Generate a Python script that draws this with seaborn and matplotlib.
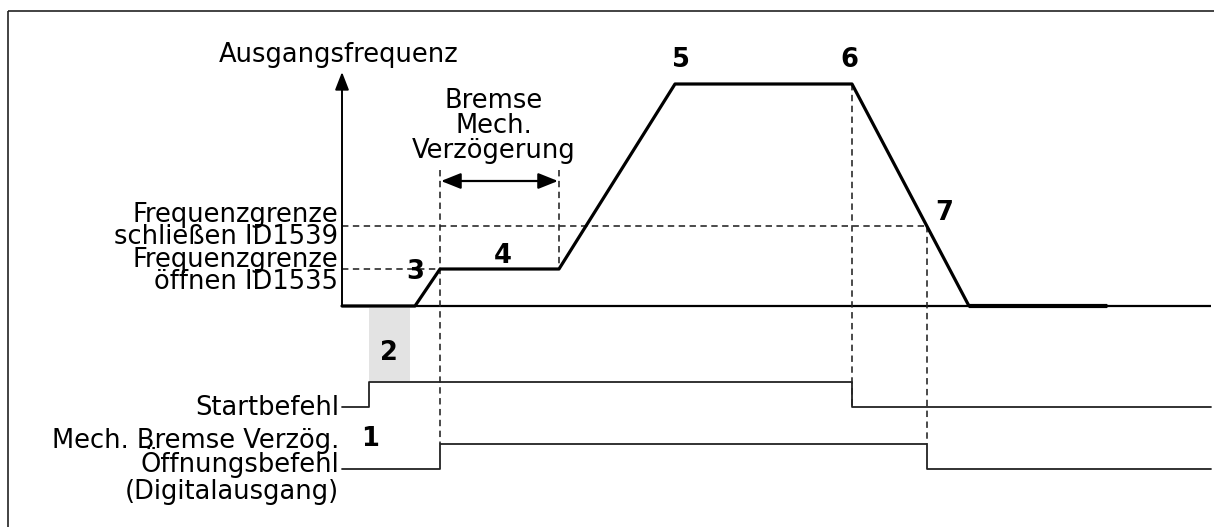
import matplotlib
matplotlib.use("Agg")
import matplotlib.pyplot as plt
import seaborn as sns
import pandas as pd
from matplotlib.patches import Rectangle

# ---------------- data (schematic, in drawing units) ----------------
# Output frequency curve (time, frequency level)
freq_t = [342, 415, 440, 559, 675, 852, 969, 1107]
freq_y = [306, 306, 269, 269, 84, 84, 306, 306]

# Start command signal
start_t = [342, 369, 369, 852, 852, 1211]
start_y = [407, 407, 382, 382, 407, 407]

# Brake opening command (digital output)
open_t = [342, 440, 440, 927, 927, 1211]
open_y = [469, 469, 444, 444, 469, 469]

# Reference levels
f_base = 306
f_open = 269
f_close = 226
t_open = 440
t_delay_end = 559
t_stop = 852
t_close = 927

left_labels = ["Frequenzgrenze", "schließen ID1539", "Frequenzgrenze", "öffnen ID1535"]
left_label_y = [222, 244, 267, 289]
signal_labels = ["Startbefehl", "Mech. Bremse Verzög.", "Öffnungsbefehl", "(Digitalausgang)"]
signal_label_y = [415, 448, 472, 499]
delay_label = ["Bremse", "Mech.", "Verzögerung"]
delay_label_y = [108, 133, 158]
marker_labels = ["1", "2", "3", "4", "5", "6", "7"]
marker_x = [370, 389, 415, 503, 681, 849, 944]
marker_y = [446, 360, 279, 263, 67, 67, 220]

# ---------------- figure ----------------
sns.set_theme(style="white")
plt.rcParams["font.family"] = ["DejaVu Sans"]
plt.rcParams["text.color"] = "black"

fig = plt.figure(figsize=(12.14, 5.27), dpi=100)
ax = fig.add_axes([0, 0, 1, 1])

FS = 18.5
DASH = dict(color="#222222", lw=1.15, linestyle=(0, (4.0, 2.8)))

# outer frame
ax.add_patch(Rectangle((8, 11), 1230, 540, fill=False, lw=1.2, ec="#222222"))

# grey box (2)
ax.add_patch(Rectangle((369, 308), 41, 73, fc="#e3e3e3", ec="none", zorder=0))

# axes
ax.plot([342, 1211], [f_base, f_base], color="black", lw=1.6, solid_capstyle="butt")
ax.annotate("", xy=(342, 72), xytext=(342, f_base),
            arrowprops=dict(arrowstyle="-|>,head_length=0.9,head_width=0.35",
                            color="black", lw=1.4, shrinkA=0, shrinkB=0))

# dashed helper lines
ax.plot([342, t_close], [f_close, f_close], **DASH)
ax.plot([342, t_open], [f_open, f_open], **DASH)
ax.plot([t_open, t_open], [170, 444], **DASH)
ax.plot([t_delay_end, t_delay_end], [170, f_open], **DASH)
ax.plot([t_stop, t_stop], [84, 407], **DASH)
ax.plot([t_close, t_close], [f_close, 444], **DASH)

# frequency curve
df_f = pd.DataFrame({"t": freq_t, "f": freq_y})
sns.lineplot(data=df_f, x="t", y="f", sort=False, estimator=None, ax=ax,
             color="black", lw=2.3)
ax.plot(freq_t[-2:], freq_y[-2:], color="black", lw=3.0, solid_capstyle="butt")

# signals
df_s = pd.DataFrame({"t": start_t, "v": start_y})
sns.lineplot(data=df_s, x="t", y="v", sort=False, estimator=None, ax=ax,
             color="#222222", lw=1.3)
df_o = pd.DataFrame({"t": open_t, "v": open_y})
sns.lineplot(data=df_o, x="t", y="v", sort=False, estimator=None, ax=ax,
             color="#222222", lw=1.3)

ax.set_xlim(0, 1214)
ax.set_ylim(527, 0)
ax.axis("off")

# double arrow for delay
ax.annotate("", xy=(t_open + 1, 181), xytext=(t_delay_end - 1, 181),
            arrowprops=dict(arrowstyle="<|-|>,head_length=1.0,head_width=0.4",
                            color="black", lw=1.6, shrinkA=0, shrinkB=0))

# texts
ax.text(339, 62, "Ausgangsfrequenz", fontsize=FS, ha="center", va="baseline", color="black")
for s, y in zip(left_labels, left_label_y):
    ax.text(338, y, s, fontsize=FS, ha="right", va="baseline", color="black")
for s, y in zip(signal_labels, signal_label_y):
    ax.text(339, y, s, fontsize=FS, ha="right", va="baseline", color="black")
for s, y in zip(delay_label, delay_label_y):
    ax.text(494, y, s, fontsize=FS, ha="center", va="baseline", color="black")
for s, x, y in zip(marker_labels, marker_x, marker_y):
    ax.text(x, y, s, fontsize=FS, ha="center", va="baseline", fontweight="bold", color="black")

fig.savefig("out.png", dpi=100)
